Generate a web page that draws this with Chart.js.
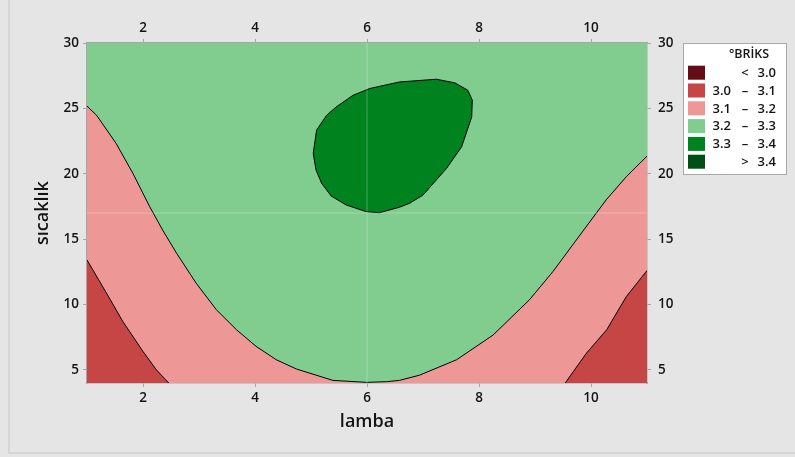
<!DOCTYPE html>
<html>
<head>
<meta charset="utf-8">
<script src="https://cdn.jsdelivr.net/npm/chart.js@4.4.1/dist/chart.umd.min.js"></script>
<style>
  html, body { margin: 0; padding: 0; background: #e5e5e5; }
  #wrap { width: 795px; height: 457px; position: relative; }
</style>
</head>
<body>
<div id="wrap"><canvas id="c" width="795" height="457"></canvas></div>
<script>
// Axes
const lambaTicks = [2, 4, 6, 8, 10];
const sicaklikTicks = [5, 10, 15, 20, 25, 30];
const lambaRange = [1, 11];
const sicaklikRange = [4, 30];
const holdLamba = 6;
const holdSicaklik = 17;

// Contour lines of °BRİKS, as [lamba, sıcaklık] points
const contour32 = [
  [1, 25.17], [1.17, 24.48], [1.52, 22.32], [1.82, 20.03], [2.12, 17.48],
  [2.35, 15.7], [2.6, 13.92], [2.95, 11.63], [3.31, 9.6], [3.67, 8.07],
  [4.02, 6.8], [4.38, 5.78], [4.74, 5.07], [5.39, 4.2], [5.99, 4.05],
  [6.35, 4.1], [6.58, 4.2], [6.94, 4.6], [7.6, 5.78], [8.25, 7.66],
  [8.9, 10.36], [9.32, 12.52], [9.87, 15.7], [10.27, 18.0], [10.63, 19.77],
  [11, 21.35]
];
const contour31Left = [
  [1, 13.41], [1.4, 10.49], [1.64, 8.7], [2.0, 6.41], [2.24, 5.0], [2.46, 4.0]
];
const contour31Right = [
  [9.54, 4.0], [9.92, 6.29], [10.28, 8.07], [10.63, 10.6], [11, 12.6]
];
const contour33 = [
  [6.58, 27.02], [7.24, 27.23], [7.57, 26.95], [7.8, 26.39], [7.88, 25.63],
  [7.87, 24.35], [7.69, 22.06], [7.42, 20.41], [7.0, 18.37], [6.76, 17.74],
  [6.58, 17.44], [6.22, 17.02], [5.99, 17.1], [5.63, 17.61], [5.36, 18.3],
  [5.19, 19.27], [5.09, 20.28], [5.04, 21.56], [5.1, 23.34], [5.28, 24.48],
  [5.45, 25.11], [5.75, 26.0], [6.05, 26.52], [6.58, 27.02]
];

// Legend
const legendTitle = '°BRİKS';
const legendLow = ['', '3.0', '3.1', '3.2', '3.3', ''];
const legendOp = ['<', '–', '–', '–', '–', '>'];
const legendHigh = ['3.0', '3.1', '3.2', '3.3', '3.4', '3.4'];
const levelColors = ['#640d16', '#c64545', '#ed9796', '#80cd8f', '#00821f', '#004f16'];

const FONT = '"Open Sans", "DejaVu Sans", sans-serif';
const TEXT = '#141414';
const AXIS = '#a6a6a6';

const pts = arr => arr.map(([x, y]) => ({ x, y }));
const xMin = lambaRange[0], xMax = lambaRange[1];
const yMin = sicaklikRange[0], yMax = sicaklikRange[1];

function region(points, color) {
  return {
    data: pts(points), showLine: true, fill: 'shape', backgroundColor: color,
    borderWidth: 0, borderColor: 'rgba(0,0,0,0)', pointRadius: 0, tension: 0
  };
}
function contour(points) {
  return {
    data: pts(points), showLine: true, fill: false, borderColor: '#000',
    borderWidth: 1, pointRadius: 0, tension: 0
  };
}
function refLine(points) {
  return {
    data: pts(points), showLine: true, fill: false, borderColor: 'rgba(255,255,255,0.28)',
    borderWidth: 1, pointRadius: 0, tension: 0
  };
}

// Later datasets are painted first, so the lines come first in the list
const datasets = [
  refLine([[holdLamba, yMin], [holdLamba, yMax]]),
  refLine([[xMin, holdSicaklik], [xMax, holdSicaklik]]),
  contour(contour32),
  contour(contour31Left),
  contour(contour31Right),
  contour(contour33),
  region(contour33, levelColors[4]),
  region(contour31Left.concat([[xMin, yMin], contour31Left[0]]), levelColors[1]),
  region(contour31Right.concat([[xMax, yMin], contour31Right[0]]), levelColors[1]),
  region(contour32.concat([[xMax, yMin], [xMin, yMin], contour32[0]]), levelColors[2]),
  region([[xMin, yMin], [xMax, yMin], [xMax, yMax], [xMin, yMax], [xMin, yMin]], levelColors[3])
];

const tickFont = { family: FONT, size: 13.5, weight: '600' };
const gridOpts = { display: true, drawOnChartArea: false, drawTicks: true, tickLength: 4, color: AXIS };
const borderOpts = { display: true, color: AXIS, width: 1.5 };

const frame = {
  id: 'frame',
  beforeDraw(chart) {
    const ctx = chart.ctx;
    ctx.save();
    ctx.fillStyle = '#e5e5e5';
    ctx.fillRect(0, 0, chart.width, chart.height);
    ctx.strokeStyle = '#cfcfcf';
    ctx.lineWidth = 1.5;
    ctx.strokeRect(9, -5, chart.width + 10, 458);
    ctx.restore();
  }
};

const contourLegend = {
  id: 'contourLegend',
  afterDraw(chart) {
    const ctx = chart.ctx;
    const bx = 683, by = 43, bw = 103, bh = 131;
    ctx.save();
    ctx.fillStyle = '#ffffff';
    ctx.fillRect(bx, by, bw, bh);
    ctx.strokeStyle = '#a8a8a8';
    ctx.lineWidth = 1;
    ctx.strokeRect(bx + 0.5, by + 0.5, bw, bh);
    ctx.fillStyle = TEXT;
    ctx.font = '600 12.5px ' + FONT;
    ctx.textAlign = 'center';
    ctx.textBaseline = 'middle';
    ctx.fillText(legendTitle, 749, 54.5);
    ctx.font = '600 13px ' + FONT;
    for (let i = 0; i < levelColors.length; i++) {
      const cy = 72.7 + i * 17.8;
      ctx.fillStyle = levelColors[i];
      ctx.fillRect(688, cy - 7, 17, 14);
      ctx.fillStyle = TEXT;
      ctx.textAlign = 'right';
      ctx.fillText(legendHigh[i], 776, cy + 0.5);
      if (legendLow[i]) ctx.fillText(legendLow[i], 731, cy + 0.5);
      ctx.textAlign = 'center';
      ctx.fillText(legendOp[i], 745, cy + 0.5);
    }
    ctx.restore();
  }
};

new Chart(document.getElementById('c'), {
  type: 'scatter',
  data: { datasets },
  options: {
    responsive: false,
    animation: false,
    layout: { padding: 0 },
    plugins: { legend: { display: false }, tooltip: { enabled: false } },
    scales: {
      x: {
        type: 'linear', position: 'bottom', min: xMin, max: xMax,
        afterBuildTicks: s => { s.ticks = lambaTicks.map(v => ({ value: v })); },
        afterFit: s => { s.height = 74; },
        grid: gridOpts, border: borderOpts,
        ticks: { font: tickFont, color: TEXT, padding: 3, maxRotation: 0, autoSkip: false },
        title: { display: true, text: 'lamba', color: TEXT,
                 font: { family: FONT, size: 18, weight: '600' }, padding: { top: 0, bottom: 24 } }
      },
      x2: {
        type: 'linear', position: 'top', min: xMin, max: xMax,
        afterBuildTicks: s => { s.ticks = lambaTicks.map(v => ({ value: v })); },
        afterFit: s => { s.height = 43; },
        grid: gridOpts, border: borderOpts,
        ticks: { font: tickFont, color: TEXT, padding: 3, maxRotation: 0, autoSkip: false }
      },
      y: {
        type: 'linear', position: 'left', min: yMin, max: yMax,
        afterBuildTicks: s => { s.ticks = sicaklikTicks.map(v => ({ value: v })); },
        afterFit: s => { s.width = 87; },
        grid: gridOpts, border: borderOpts,
        ticks: { font: tickFont, color: TEXT, padding: 4, autoSkip: false },
        title: { display: true, text: 'sıcaklık', color: TEXT,
                 font: { family: FONT, size: 18, weight: '600' }, padding: { top: 32, bottom: 0 } }
      },
      y2: {
        type: 'linear', position: 'right', min: yMin, max: yMax,
        afterBuildTicks: s => { s.ticks = sicaklikTicks.map(v => ({ value: v })); },
        afterFit: s => { s.width = 148; },
        grid: gridOpts, border: borderOpts,
        ticks: { font: tickFont, color: TEXT, padding: 7, autoSkip: false }
      }
    }
  },
  plugins: [frame, contourLegend]
});
</script>
</body>
</html>
